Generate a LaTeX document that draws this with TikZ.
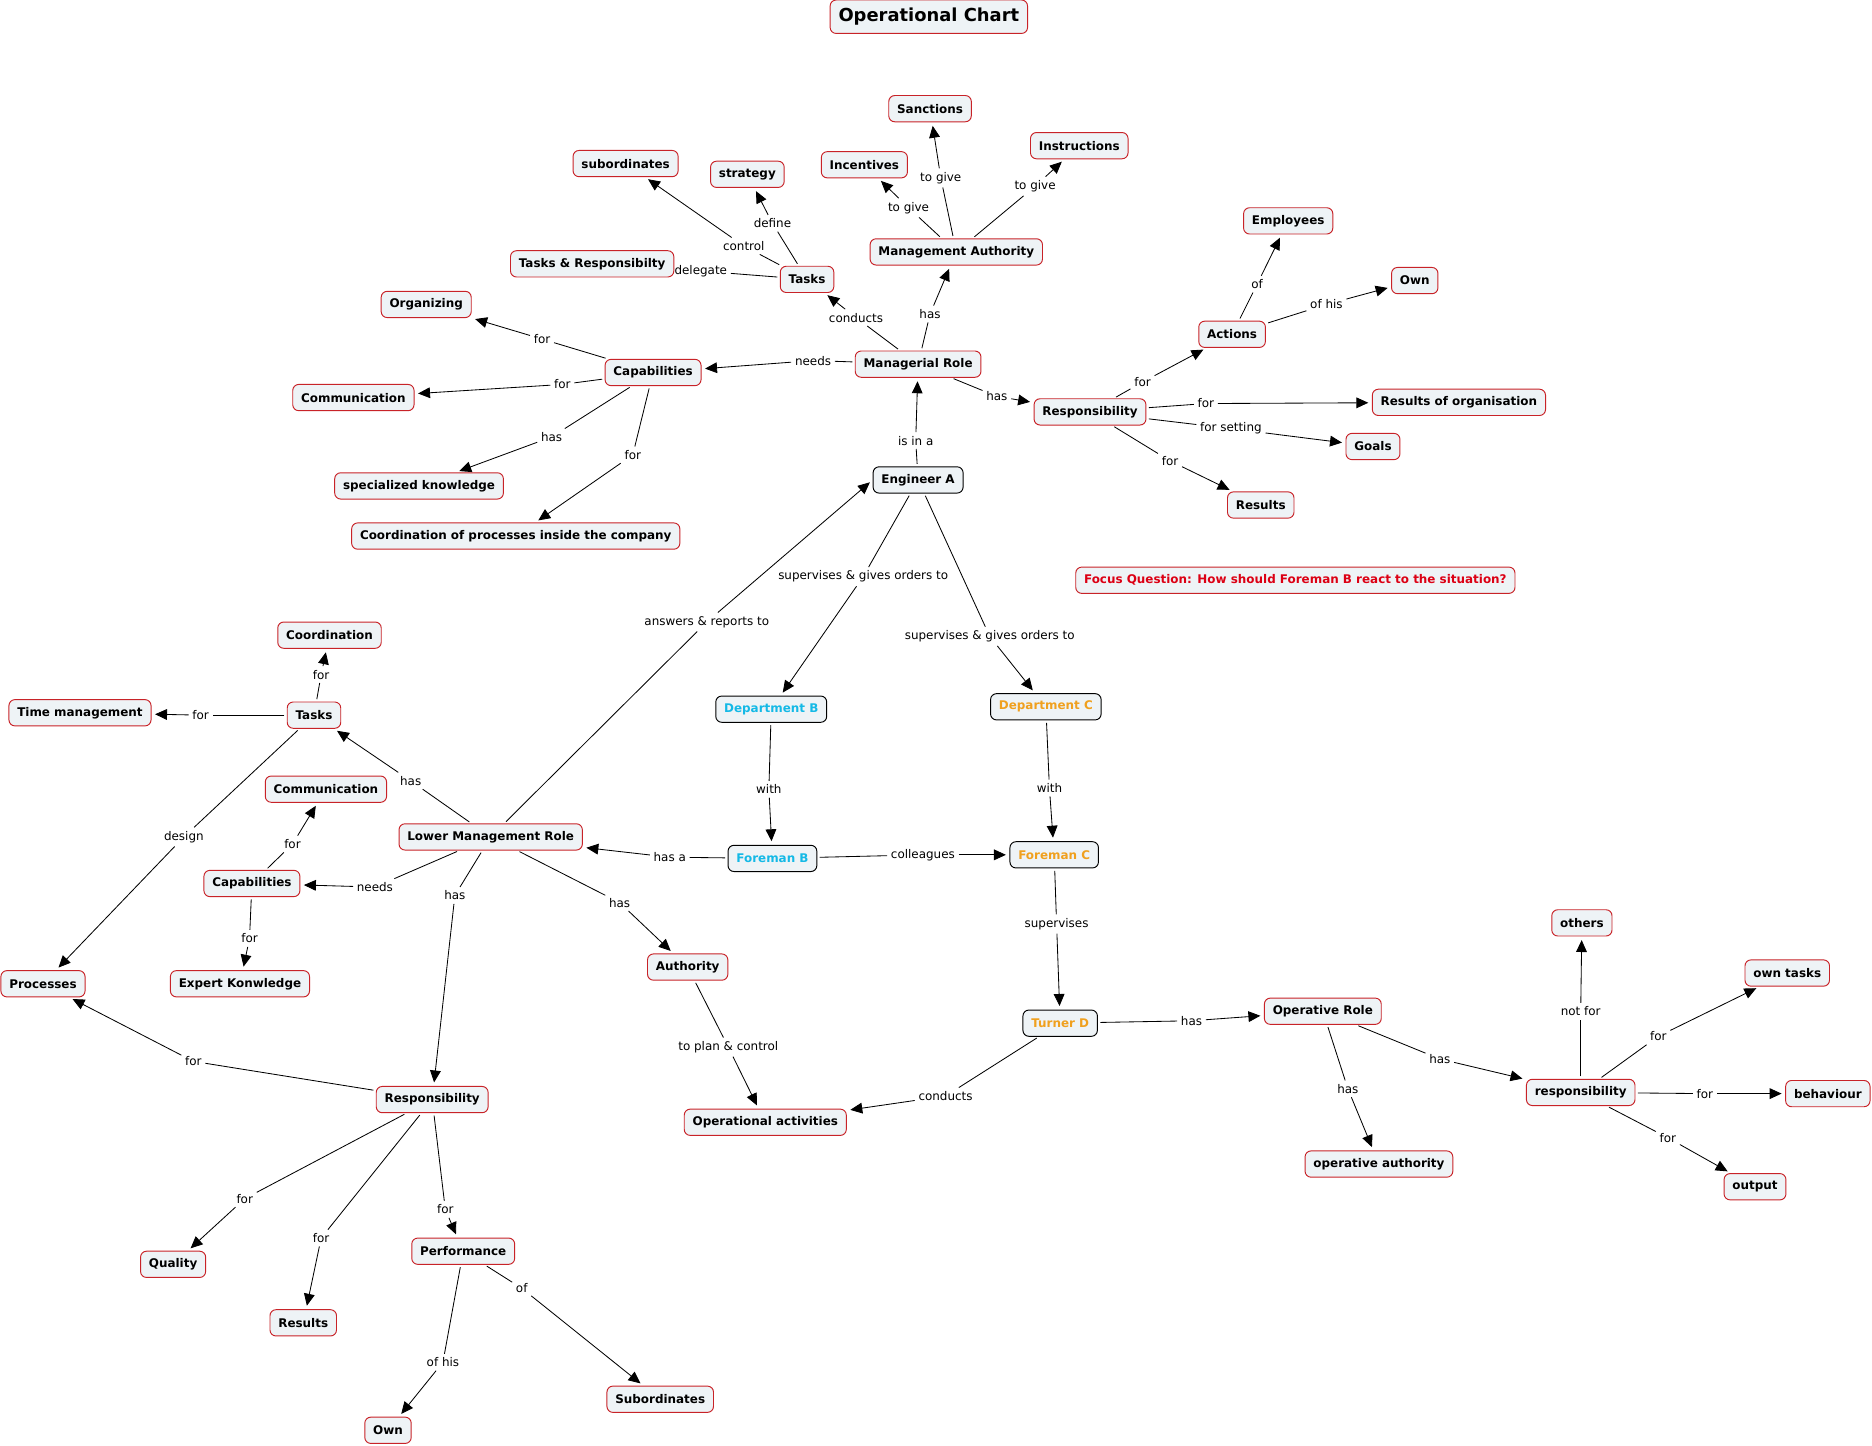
\documentclass[tikz,border=0pt]{standalone}
\usepackage{fontspec}
\setmainfont{DejaVu Sans}
\usetikzlibrary{arrows.meta}

\definecolor{boxfill}{RGB}{238,243,246}
\definecolor{boxred}{RGB}{200,35,40}
\definecolor{deptblue}{RGB}{20,185,230}
\definecolor{deptorange}{RGB}{240,160,30}
\definecolor{focusred}{RGB}{220,0,20}

\tikzset{
  concept/.style={draw=boxred, fill=boxfill, rounded corners=5pt, line width=0.8pt,
    font=\fontsize{10}{12}\selectfont\bfseries, inner xsep=7pt, minimum height=22pt},
  person/.style={concept, draw=black},
  maptitle/.style={concept, font=\fontsize{15}{18}\selectfont\bfseries, minimum height=28pt},
  linklabel/.style={font=\fontsize{10}{12}\selectfont, inner sep=3pt},
  link/.style={line width=0.7pt, shorten <=2pt},
  arrowlink/.style={line width=0.7pt, shorten >=3pt, -{Triangle[length=10pt,width=9pt]}},
}

\begin{document}
\begin{tikzpicture}[x=1pt,y=-1pt]
        \useasboundingbox (0,0) rectangle (1568,1211);

        % title and focus question
        \node[maptitle] (title) at (778,14) {Operational Chart};
        \node[concept, text=focusred] (focus) at (1085,486) {Focus Question: How should Foreman B react to the situation?};

        % people and departments
        \node[person] (enga) at (769,402) {Engineer A};
        \node[person, text=deptblue] (deptb) at (646,594) {Department B};
        \node[person, text=deptorange] (deptc) at (876,592) {Department C};
        \node[person, text=deptblue] (foreb) at (647,719) {Foreman B};
        \node[person, text=deptorange] (forec) at (883,716) {Foreman C};
        \node[person, text=deptorange] (turnd) at (888,857) {Turner D};

        % managerial role
        \node[concept] (mrole) at (769,305) {Managerial Role};
        \node[concept] (mauth) at (801,211) {Management Authority};
        \node[concept] (sanct) at (779,91) {Sanctions};
        \node[concept] (instr) at (904,122) {Instructions};
        \node[concept] (incen) at (724,138) {Incentives};
        \node[concept] (mtasks) at (676,234) {Tasks};
        \node[concept] (strat) at (626,146) {strategy};
        \node[concept] (subor) at (524,137) {subordinates};
        \node[concept] (tresp) at (496,221) {Tasks \& Responsibilty};
        \node[concept] (mcap) at (547,312) {Capabilities};
        \node[concept] (organ) at (357,255) {Organizing};
        \node[concept] (mcomm) at (296,333) {Communication};
        \node[concept] (spec) at (351,407) {specialized knowledge};
        \node[concept] (coproc) at (432,449) {Coordination of processes inside the company};
        \node[concept] (mresp) at (913,345) {Responsibility};
        \node[concept] (actions) at (1032,280) {Actions};
        \node[concept] (employ) at (1079,185) {Employees};
        \node[concept] (ownt) at (1185,235) {Own};
        \node[concept] (resorg) at (1222,337) {Results of organisation};
        \node[concept] (goals) at (1150,374) {Goals};
        \node[concept] (mresults) at (1056,423) {Results};

        % lower management role
        \node[concept] (lrole) at (411,701) {Lower Management Role};
        \node[concept] (ltasks) at (263,599) {Tasks};
        \node[concept] (coord) at (276,532) {Coordination};
        \node[concept] (timem) at (67,597) {Time management};
        \node[concept] (proc) at (36,824) {Processes};
        \node[concept] (lcap) at (211,740) {Capabilities};
        \node[concept] (lcomm) at (273,661) {Communication};
        \node[concept] (expert) at (201,824) {Expert Konwledge};
        \node[concept] (lauth) at (576,810) {Authority};
        \node[concept] (opact) at (641,940) {Operational activities};
        \node[concept] (lresp) at (362,921) {Responsibility};
        \node[concept] (quality) at (145,1059) {Quality};
        \node[concept] (lresults) at (254,1108) {Results};
        \node[concept] (perf) at (388,1048) {Performance};
        \node[concept] (ownb) at (325,1198) {Own};
        \node[concept] (subs) at (553,1172) {Subordinates};

        % operative role
        \node[concept] (orole) at (1108,847) {Operative Role};
        \node[concept] (opauth) at (1155,975) {operative authority};
        \node[concept] (oresp) at (1324,915) {responsibility};
        \node[concept] (others) at (1325,773) {others};
        \node[concept] (owntasks) at (1497,815) {own tasks};
        \node[concept] (behav) at (1531,916) {behaviour};
        \node[concept] (output) at (1470,994) {output};

        % link labels
        \node[linklabel] (l1) at (767,369) {is in a};
        \node[linklabel] (l2) at (681,302) {needs};
        \node[linklabel] (l3) at (717,266) {conducts};
        \node[linklabel] (l4) at (779,263) {has};
        \node[linklabel] (l5) at (835,332) {has};
        \node[linklabel] (l6) at (761,174) {to give};
        \node[linklabel] (l7) at (788,149) {to give};
        \node[linklabel] (l8) at (867,156) {to give};
        \node[linklabel] (l9) at (647,187) {define};
        \node[linklabel] (l10) at (623,206) {control};
        \node[linklabel] (l11) at (587,227) {delegate};
        \node[linklabel] (l12) at (454,284) {for};
        \node[linklabel] (l13) at (471,322) {for};
        \node[linklabel] (l14) at (462,366) {has};
        \node[linklabel] (l15) at (530,381) {for};
        \node[linklabel] (l16) at (957,320) {for};
        \node[linklabel] (l17) at (1053,238) {of};
        \node[linklabel] (l18) at (1111,255) {of his};
        \node[linklabel] (l19) at (1010,338) {for};
        \node[linklabel] (l20) at (1031,359) {for setting};
        \node[linklabel] (l21) at (980,386) {for};
        \node[linklabel] (l22) at (723,483) {supervises \& gives orders to};
        \node[linklabel] (l23) at (829,533) {supervises \& gives orders to};
        \node[linklabel] (l24) at (592,521) {answers \& reports to};
        \node[linklabel] (l25) at (644,661) {with};
        \node[linklabel] (l26) at (879,660) {with};
        \node[linklabel] (l27) at (561,718) {has a};
        \node[linklabel] (l28) at (773,716) {colleagues};
        \node[linklabel] (l29) at (885,774) {supervises};
        \node[linklabel] (l30) at (998,855) {has};
        \node[linklabel] (l31) at (792,918) {conducts};
        \node[linklabel] (l32) at (1129,912) {has};
        \node[linklabel] (l33) at (1206,887) {has};
        \node[linklabel] (l34) at (1324,847) {not for};
        \node[linklabel] (l35) at (1389,868) {for};
        \node[linklabel] (l36) at (1428,916) {for};
        \node[linklabel] (l37) at (1397,953) {for};
        \node[linklabel] (l38) at (344,654) {has};
        \node[linklabel] (l39) at (269,565) {for};
        \node[linklabel] (l40) at (168,599) {for};
        \node[linklabel] (l41) at (154,701) {design};
        \node[linklabel] (l42) at (245,707) {for};
        \node[linklabel] (l43) at (314,743) {needs};
        \node[linklabel] (l44) at (209,786) {for};
        \node[linklabel] (l45) at (381,750) {has};
        \node[linklabel] (l46) at (519,756) {has};
        \node[linklabel] (l47) at (610,877) {to plan \& control};
        \node[linklabel] (l48) at (162,889) {for};
        \node[linklabel] (l49) at (205,1004) {for};
        \node[linklabel] (l50) at (269,1037) {for};
        \node[linklabel] (l51) at (373,1013) {for};
        \node[linklabel] (l52) at (371,1141) {of his};
        \node[linklabel] (l53) at (437,1079) {of};

        % managerial role links
        \draw[link] (enga) -- (l1);   \draw[arrowlink] (l1) -- (mrole);
        \draw[link] (mrole) -- (l2);  \draw[arrowlink] (l2) -- (mcap);
        \draw[link] (mrole) -- (l3);  \draw[arrowlink] (l3) -- (mtasks);
        \draw[link] (mrole) -- (l4);  \draw[arrowlink] (l4) -- (mauth);
        \draw[link] (mrole) -- (l5);  \draw[arrowlink] (l5) -- (mresp);
        \draw[link] (mauth) -- (l6);  \draw[arrowlink] (l6) -- (incen);
        \draw[link] (mauth) -- (l7);  \draw[arrowlink] (l7) -- (sanct);
        \draw[link] (mauth) -- (l8);  \draw[arrowlink] (l8) -- (instr);
        \draw[link] (mtasks) -- (l9); \draw[arrowlink] (l9) -- (strat);
        \draw[link] (mtasks) -- (l10); \draw[arrowlink] (l10) -- (subor);
        \draw[link] (mtasks) -- (l11); % delegate sits on the box
        \draw[link] (mcap) -- (l12);  \draw[arrowlink] (l12) -- (organ);
        \draw[link] (mcap) -- (l13);  \draw[arrowlink] (l13) -- (mcomm);
        \draw[link] (mcap) -- (l14);  \draw[arrowlink] (l14) -- (spec);
        \draw[link] (mcap) -- (l15);  \draw[arrowlink] (l15) -- (coproc);
        \draw[link] (mresp) -- (l16); \draw[arrowlink] (l16) -- (actions);
        \draw[link] (actions) -- (l17); \draw[arrowlink] (l17) -- (employ);
        \draw[link] (actions) -- (l18); \draw[arrowlink] (l18) -- (ownt);
        \draw[link] (mresp) -- (l19); \draw[arrowlink] (l19) -- (resorg);
        \draw[link] (mresp) -- (l20); \draw[arrowlink] (l20) -- (goals);
        \draw[link] (mresp) -- (l21); \draw[arrowlink] (l21) -- (mresults);

        % departments and foremen
        \draw[link] (enga) -- (l22);  \draw[arrowlink] (l22) -- (deptb);
        \draw[link] (enga) -- (l23);  \draw[arrowlink] (l23) -- (deptc);
        \draw[link] (lrole) -- (l24); \draw[arrowlink] (l24) -- (enga.west);
        \draw[link] (deptb) -- (l25); \draw[arrowlink] (l25) -- (foreb);
        \draw[link] (deptc) -- (l26); \draw[arrowlink] (l26) -- (forec);
        \draw[link] (foreb) -- (l27); \draw[arrowlink] (l27) -- (lrole);
        \draw[link] (foreb) -- (l28); \draw[arrowlink] (l28) -- (forec);
        \draw[link] (forec) -- (l29); \draw[arrowlink] (l29) -- (turnd);
        \draw[link] (turnd) -- (l30); \draw[arrowlink] (l30) -- (orole);
        \draw[link] (turnd) -- (l31); \draw[arrowlink] (l31) -- (opact);

        % operative role links
        \draw[link] (orole) -- (l32); \draw[arrowlink] (l32) -- (opauth);
        \draw[link] (orole) -- (l33); \draw[arrowlink] (l33) -- (oresp);
        \draw[link] (oresp) -- (l34); \draw[arrowlink] (l34) -- (others);
        \draw[link] (oresp) -- (l35); \draw[arrowlink] (l35) -- (owntasks);
        \draw[link] (oresp) -- (l36); \draw[arrowlink] (l36) -- (behav);
        \draw[link] (oresp) -- (l37); \draw[arrowlink] (l37) -- (output);

        % lower management role links
        \draw[link] (lrole) -- (l38); \draw[arrowlink] (l38) -- (ltasks);
        \draw[link] (ltasks) -- (l39); \draw[arrowlink] (l39) -- (coord);
        \draw[link] (ltasks) -- (l40); \draw[arrowlink] (l40) -- (timem);
        \draw[link] (ltasks) -- (l41); \draw[arrowlink] (l41) -- (proc);
        \draw[link] (lcap) -- (l42);  \draw[arrowlink] (l42) -- (lcomm);
        \draw[link] (lrole) -- (l43); \draw[arrowlink] (l43) -- (lcap);
        \draw[link] (lcap) -- (l44);  \draw[arrowlink] (l44) -- (expert);
        \draw[link] (lrole) -- (l45); \draw[arrowlink] (l45) -- (lresp);
        \draw[link] (lrole) -- (l46); \draw[arrowlink] (l46) -- (lauth);
        \draw[link] (lauth) -- (l47); \draw[arrowlink] (l47) -- (opact);
        \draw[link] (lresp) -- (l48); \draw[arrowlink] (l48) -- (proc);
        \draw[link] (lresp) -- (l49); \draw[arrowlink] (l49) -- (quality);
        \draw[link] (lresp) -- (l50); \draw[arrowlink] (l50) -- (lresults);
        \draw[link] (lresp) -- (l51); \draw[arrowlink] (l51) -- (perf);
        \draw[link] (perf) -- (l52);  \draw[arrowlink] (l52) -- (ownb);
        \draw[link] (perf) -- (l53);  \draw[arrowlink] (l53) -- (subs);
    \end{tikzpicture}
\end{document}
